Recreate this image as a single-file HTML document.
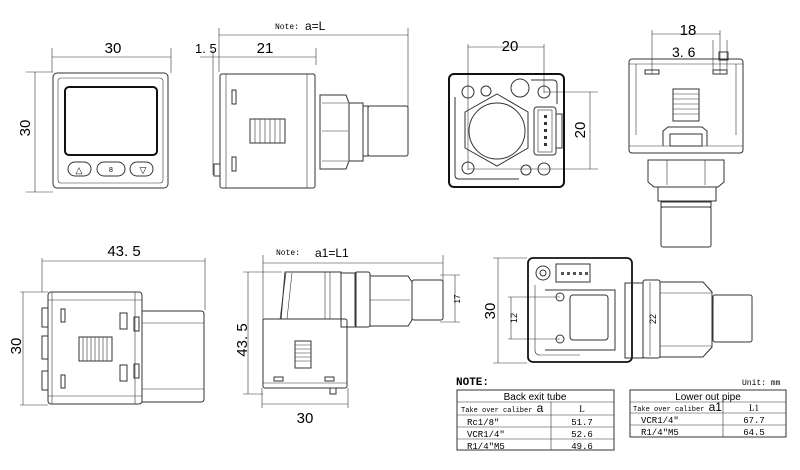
<!DOCTYPE html>
<html><head><meta charset="utf-8"><style>
body{margin:0;background:#fff}
svg{display:block;font-family:"Liberation Sans",sans-serif}
.l{fill:none;stroke:#333;stroke-width:1}
.t{stroke:#333;stroke-width:.6;fill:none}
.k{fill:none;stroke:#222;stroke-width:1.6}
.m{font-family:"Liberation Mono",monospace}
</style></head><body>
<svg width="800" height="470" viewBox="0 0 800 470">
<!-- View 1 front -->
<g>
<line class="t" x1="52" y1="48" x2="52" y2="72"/><line class="t" x1="171" y1="48" x2="171" y2="73"/>
<line class="t" x1="52" y1="57" x2="171" y2="57"/>
<text x="113" y="53" font-size="15" text-anchor="middle">30</text>
<line class="t" x1="26" y1="72" x2="53" y2="72"/><line class="t" x1="26" y1="192" x2="53" y2="192"/>
<line class="t" x1="35" y1="72" x2="35" y2="192"/>
<text x="0" y="0" font-size="15" text-anchor="middle" transform="translate(30,128) rotate(-90)">30</text>
<rect class="l" x="53" y="73" width="115" height="115" rx="4"/>
<rect class="t" x="58" y="78" width="105" height="105" rx="3"/>
<rect x="65" y="87" width="92" height="68" rx="4" fill="none" stroke="#111" stroke-width="2"/>
<rect class="l" x="68" y="162" width="23" height="14" rx="7"/><rect class="l" x="97" y="162" width="28" height="14" rx="7"/><rect class="l" x="130" y="162" width="23" height="14" rx="7"/>
<text x="79" y="173" font-size="9" text-anchor="middle">△</text><text x="111" y="172" font-size="7" text-anchor="middle">8</text><text x="143" y="173" font-size="9" text-anchor="middle">▽</text>
</g>
<!-- View 2 side -->
<g>
<text x="275" y="29" font-size="8" class="m">Note:</text><text x="305" y="30" font-size="12">a=L</text>
<line class="t" x1="219" y1="28" x2="219" y2="72"/><line class="t" x1="408" y1="28" x2="408" y2="108"/>
<line class="t" x1="219" y1="35" x2="408" y2="35"/>
<text x="195" y="53" font-size="13">1. 5</text><text x="265" y="53" font-size="15" text-anchor="middle">21</text>
<line class="t" x1="200" y1="57" x2="316" y2="57"/><line class="t" x1="316" y1="48" x2="316" y2="65"/>
<line class="t" x1="213" y1="50" x2="213" y2="175"/>
<rect class="l" x="220" y="74" width="95" height="114" rx="2"/>
<line class="t" x1="226" y1="74" x2="226" y2="188"/><line class="t" x1="307" y1="74" x2="307" y2="188"/>
<rect class="l" x="232" y="90" width="4" height="14"/><rect class="l" x="232" y="157" width="4" height="14"/>
<rect class="l" x="250" y="119" width="35" height="24"/>
<path class="t" d="M255 119v24M260 119v24M265 119v24M270 119v24M275 119v24M280 119v24"/>
<rect class="l" x="214" y="164" width="6" height="12"/>
<path class="l" d="M320 95h26l3 8v58l-3 8h-26z"/><line class="t" x1="322" y1="103" x2="348" y2="103"/><line class="t" x1="322" y1="131" x2="348" y2="131"/><line class="t" x1="322" y1="161" x2="348" y2="161"/>
<rect class="l" x="349" y="103" width="14" height="58"/>
<rect class="l" x="363" y="106" width="5" height="50"/>
<rect class="l" x="368" y="106" width="40" height="50" rx="2"/>
</g>
<!-- View 3 back -->
<g>
<line class="t" x1="468" y1="44" x2="468" y2="170"/><line class="t" x1="544" y1="44" x2="544" y2="93"/>
<line class="t" x1="468" y1="47" x2="544" y2="47"/>
<text x="510" y="51" font-size="15" text-anchor="middle">20</text>
<line class="t" x1="544" y1="92" x2="598" y2="92"/><line class="t" x1="468" y1="169" x2="598" y2="169"/>
<line class="t" x1="590" y1="92" x2="590" y2="169"/>
<text font-size="15" text-anchor="middle" transform="translate(585,130) rotate(-90)">20</text>
<rect x="449" y="74" width="115" height="113" rx="5" fill="none" stroke="#111" stroke-width="2"/>
<circle class="l" cx="468" cy="92" r="6"/><circle class="l" cx="486" cy="91" r="5"/><circle class="l" cx="520" cy="88" r="9"/><circle class="l" cx="544" cy="92" r="6"/>
<circle class="l" cx="468" cy="168" r="6"/><circle class="l" cx="526" cy="170" r="5"/><circle class="l" cx="544" cy="169" r="6"/>
<path class="l" d="M497 94l31 18v36l-31 18l-32-18v-36z"/><circle class="l" cx="497" cy="131" r="28"/>
<rect class="l" x="534" y="107" width="22" height="48" rx="3"/><rect class="t" x="538" y="110" width="14" height="42"/>
<path d="M544 115h3v3h-3zM544 122h3v3h-3zM544 129h3v3h-3zM544 136h3v3h-3zM544 143h3v3h-3z" fill="#333"/>
<rect class="l" x="556" y="114" width="6" height="34"/>
<path class="l" d="M531 80h22q4 0 4 4v20"/><path class="l" d="M455 97v78q0 4 4 4h60"/>
</g>
<!-- View 4 top right -->
<g>
<line class="t" x1="652" y1="30" x2="652" y2="74"/><line class="t" x1="720" y1="30" x2="720" y2="74"/>
<line class="t" x1="652" y1="34" x2="720" y2="34"/>
<text x="688" y="35" font-size="15" text-anchor="middle">18</text>
<text x="672" y="57" font-size="14">3. 6</text>
<line class="t" x1="713" y1="40" x2="713" y2="74"/><line class="t" x1="727" y1="40" x2="727" y2="74"/>
<rect class="l" x="719" y="52" width="9" height="8"/>
<rect class="l" x="629" y="59" width="114" height="94" rx="3"/>
<line class="t" x1="629" y1="64" x2="743" y2="64"/><line class="t" x1="629" y1="146" x2="743" y2="146"/>
<line class="t" x1="636" y1="64" x2="636" y2="135"/><line class="t" x1="736" y1="64" x2="736" y2="135"/>
<rect class="l" x="645" y="70" width="14" height="4"/><rect class="l" x="713" y="70" width="14" height="4"/>
<rect class="l" x="673" y="89" width="26" height="32"/><path class="t" d="M673 94h26M673 99h26M673 104h26M673 109h26M673 114h26"/>
<path class="l" d="M663 146v-15l5-4h34l5 4v15"/><rect class="l" x="670" y="134" width="32" height="12"/>
<path class="l" d="M648 160h76v22l-6 5h-64l-6-5z"/><line class="t" x1="667" y1="160" x2="667" y2="185"/><line class="t" x1="705" y1="160" x2="705" y2="185"/>
<rect class="l" x="658" y="187" width="58" height="14"/>
<rect class="l" x="661" y="202" width="50" height="5"/>
<rect class="l" x="661" y="207" width="50" height="40" rx="2"/>
</g>
<!-- Bottom left view -->
<g>
<line class="t" x1="42" y1="258" x2="42" y2="292"/><line class="t" x1="205" y1="258" x2="205" y2="310"/>
<line class="t" x1="42" y1="261" x2="205" y2="261"/>
<text x="124" y="256" font-size="15" text-anchor="middle">43. 5</text>
<line class="t" x1="20" y1="292" x2="48" y2="292"/><line class="t" x1="20" y1="405" x2="48" y2="405"/>
<line class="t" x1="23" y1="292" x2="23" y2="405"/>
<text font-size="15" text-anchor="middle" transform="translate(21,346) rotate(-90)">30</text>
<rect class="l" x="48" y="292" width="94" height="112" rx="3"/>
<line class="t" x1="48" y1="300" x2="142" y2="300"/><line class="t" x1="48" y1="396" x2="142" y2="396"/>
<line class="t" x1="52" y1="292" x2="52" y2="404"/><line class="t" x1="135" y1="292" x2="135" y2="404"/>
<rect class="l" x="42" y="308" width="6" height="19"/><rect class="l" x="42" y="336" width="6" height="23"/><rect class="l" x="42" y="371" width="6" height="19"/>
<rect class="l" x="61" y="309" width="4" height="13"/><rect class="l" x="61" y="375" width="4" height="13"/>
<rect class="l" x="120" y="313" width="7" height="16"/><rect class="l" x="120" y="365" width="7" height="16"/>
<rect class="l" x="134" y="317" width="5" height="14"/><rect class="l" x="134" y="364" width="5" height="14"/>
<rect class="l" x="79" y="337" width="33" height="24"/><path class="t" d="M83 337v24M87 337v24M91 337v24M95 337v24M99 337v24M103 337v24M107 337v24"/>
<path class="l" d="M142 311h59q3 0 3 3v85q0 3-3 3h-59"/><line class="t" x1="142" y1="323" x2="204" y2="323"/><line class="t" x1="142" y1="389" x2="204" y2="389"/>
</g>
<!-- Bottom mid view -->
<g>
<text x="276" y="255" font-size="8" class="m">Note:</text><text x="315" y="257" font-size="12">a1=L1</text>
<line class="t" x1="263" y1="255" x2="263" y2="320"/><line class="t" x1="443" y1="255" x2="443" y2="310"/>
<line class="t" x1="263" y1="263" x2="443" y2="263"/>
<line class="t" x1="243" y1="272" x2="282" y2="272"/><line class="t" x1="243" y1="394" x2="263" y2="394"/>
<line class="t" x1="248" y1="272" x2="248" y2="394"/>
<text font-size="15" text-anchor="middle" transform="translate(247,340) rotate(-90)">43. 5</text>
<line class="t" x1="262" y1="388" x2="262" y2="408"/><line class="t" x1="348" y1="388" x2="348" y2="408"/>
<line class="t" x1="262" y1="404" x2="348" y2="404"/>
<text x="305" y="423" font-size="15" text-anchor="middle">30</text>
<line class="t" x1="440" y1="275" x2="460" y2="275"/><line class="t" x1="440" y1="322" x2="460" y2="322"/>
<line class="t" x1="455" y1="275" x2="455" y2="322"/>
<text font-size="8" text-anchor="middle" transform="translate(460,299) rotate(-90)">17</text>
<path class="l" d="M285 272h56v47h-60z"/><line class="t" x1="280" y1="319" x2="286" y2="273"/><line class="t" x1="287" y1="319" x2="292" y2="273"/>
<line class="t" x1="325" y1="272" x2="325" y2="319"/><line class="t" x1="330" y1="272" x2="330" y2="319"/>
<rect class="l" x="341" y="273" width="15" height="54"/>
<rect class="l" x="355" y="272" width="15" height="55" rx="2"/>
<path class="l" d="M370 276h38l4 6v38l-4 6h-38z"/><line class="t" x1="370" y1="300" x2="410" y2="300"/>
<rect class="l" x="412" y="280" width="31" height="40" rx="2"/>
<rect class="l" x="263" y="319" width="84" height="69" rx="2"/><line class="t" x1="263" y1="383" x2="347" y2="383"/>
<rect class="l" x="295" y="341" width="16" height="27"/><path class="t" d="M295 345h16M295 349h16M295 353h16M295 357h16M295 361h16"/>
<rect class="l" x="274" y="377" width="9" height="4"/><rect class="l" x="325" y="377" width="9" height="4"/>
<rect class="l" x="330" y="388" width="6" height="6"/>
</g>
<!-- Bottom right view -->
<g>
<line class="t" x1="493" y1="258" x2="527" y2="258"/><line class="t" x1="493" y1="363" x2="527" y2="363"/>
<line class="t" x1="498" y1="258" x2="498" y2="363"/>
<text font-size="15" text-anchor="middle" transform="translate(495,311) rotate(-90)">30</text>
<line class="t" x1="508" y1="297" x2="560" y2="297"/><line class="t" x1="508" y1="339" x2="560" y2="339"/>
<line class="t" x1="511" y1="297" x2="511" y2="339"/>
<text font-size="9" text-anchor="middle" transform="translate(517,318) rotate(-90)">12</text>
<rect x="528" y="258" width="104" height="104" rx="5" fill="none" stroke="#111" stroke-width="1.8"/>
<circle class="l" cx="543" cy="273" r="7"/><circle class="l" cx="543" cy="273" r="3"/>
<rect class="l" x="556" y="264" width="34" height="18"/><path d="M561 272h3v3h-3zM567 272h3v3h-3zM573 272h3v3h-3zM579 272h3v3h-3zM585 272h3v3h-3z" fill="#555"/>
<circle class="l" cx="560" cy="297" r="4"/><circle class="l" cx="560" cy="339" r="4"/>
<rect class="l" x="570" y="295" width="38" height="45" rx="3"/>
<path class="l" d="M545 290h70v60h-70"/><path class="t" d="M535 285v65q0 5 5 5h40"/>
<rect class="l" x="625" y="283" width="18" height="75"/>
<rect class="l" x="643" y="280" width="17" height="78" rx="2"/>
<line class="t" x1="650" y1="282" x2="650" y2="356"/>
<text font-size="9" text-anchor="middle" transform="translate(656,319) rotate(-90)">22</text>
<path class="l" d="M660 282h43l9 10v55l-9 10h-43z"/><line class="t" x1="660" y1="293" x2="712" y2="293"/><line class="t" x1="660" y1="346" x2="712" y2="346"/>
<rect class="l" x="713" y="295" width="39" height="47" rx="2"/>
</g>
<!-- Tables -->
<g font-family="Liberation Mono, monospace">
<text x="456" y="385" font-size="11" font-weight="bold">NOTE:</text>
<text x="742" y="385" font-size="8">Unit: mm</text>
<rect class="l" x="457" y="390" width="157" height="60"/>
<path class="t" d="M457 402h157M457 415h157M457 427h157M457 439h157M551 402v48"/>
<text x="535" y="400" font-size="10" text-anchor="middle" font-family="Liberation Sans">Back exit tube</text>
<text x="461" y="412" font-size="7">Take over caliber <tspan font-size="12" font-family="Liberation Sans">a</tspan></text>
<text x="582" y="412" font-size="9" text-anchor="middle" font-family="Liberation Serif">L</text>
<text x="467" y="425" font-size="9">Rc1/8"</text><text x="582" y="425" font-size="9" text-anchor="middle">51.7</text>
<text x="467" y="437" font-size="9">VCR1/4"</text><text x="582" y="437" font-size="9" text-anchor="middle">52.6</text>
<text x="467" y="449" font-size="9">R1/4"M5</text><text x="582" y="449" font-size="9" text-anchor="middle">49.6</text>
<rect class="l" x="630" y="390" width="156" height="47"/>
<path class="t" d="M630 402h156M630 413h156M630 425h156M723 402v35"/>
<text x="708" y="400" font-size="10" text-anchor="middle" font-family="Liberation Sans">Lower out pipe</text>
<text x="633" y="411" font-size="7">Take over caliber <tspan font-size="12" font-family="Liberation Sans">a1</tspan></text>
<text x="754" y="411" font-size="9" text-anchor="middle" font-family="Liberation Serif">L1</text>
<text x="641" y="423" font-size="9">VCR1/4"</text><text x="754" y="423" font-size="9" text-anchor="middle">67.7</text>
<text x="641" y="435" font-size="9">R1/4"M5</text><text x="754" y="435" font-size="9" text-anchor="middle">64.5</text>
</g>
</svg>
</body></html>
